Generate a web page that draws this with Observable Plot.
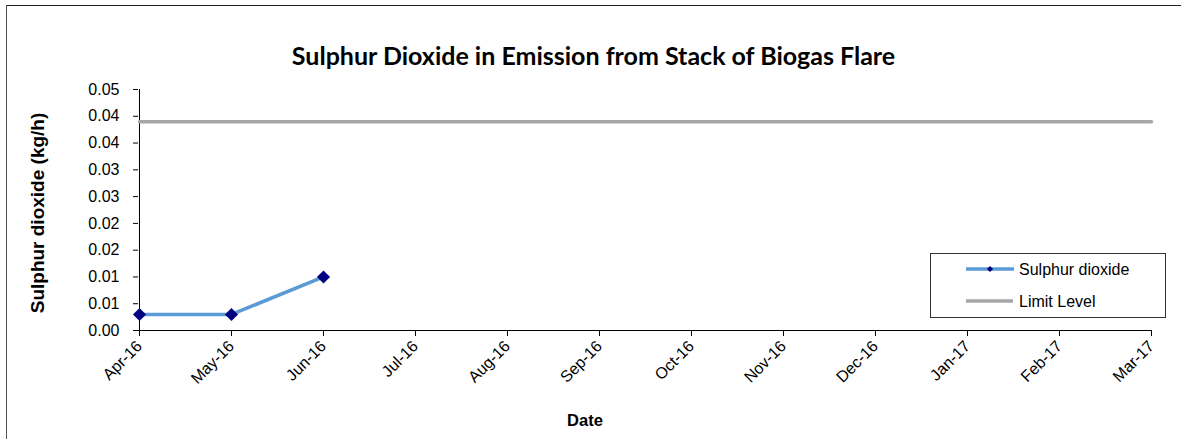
<!DOCTYPE html>
<html>
<head>
<meta charset="utf-8">
<script src="https://cdn.jsdelivr.net/npm/d3@7"></script>
<script src="https://cdn.jsdelivr.net/npm/@observablehq/plot@0.6"></script>
<style>
  html, body { margin: 0; padding: 0; background: #fff; }
  #wrap { position: relative; width: 1181px; height: 439px; overflow: hidden; font-family: "Liberation Sans", Arial, sans-serif; }
  #frame { position: absolute; left: 6px; top: 5px; width: 1200px; height: 460px; border-left: 1.5px solid #555; border-top: 1.5px solid #222; }
  #title { position: absolute; left: 0; width: 1187px; top: 40px; text-align: center; font-family: Lato, "Open Sans", sans-serif; font-weight: bold; font-size: 25px; color: #000; }
  #ylab { position: absolute; left: 38px; top: 213px; transform: translate(-50%, -50%) rotate(-90deg); white-space: nowrap; font-weight: bold; font-size: 19px; }
  #xlab { position: absolute; left: 585px; top: 420px; transform: translate(-50%, -50%); font-weight: bold; font-size: 16.5px; }
  #legend { position: absolute; left: 930px; top: 253px; width: 236px; height: 65px; border: 1px solid #333; box-sizing: border-box; background: #fff; }
  #plot { position: absolute; left: 0; top: 0; }
</style>
</head>
<body>
<div id="wrap">
  <div id="frame"></div>
  <div id="plot"></div>
  <div id="title">Sulphur Dioxide in Emission from Stack of Biogas Flare</div>
  <div id="ylab">Sulphur dioxide (kg/h)</div>
  <div id="xlab">Date</div>
  <div id="legend"></div>
</div>
<script>
const months = ["Apr-16","May-16","Jun-16","Jul-16","Aug-16","Sep-16","Oct-16","Nov-16","Dec-16","Jan-17","Feb-17","Mar-17"];
const so2Months = ["Apr-16","May-16","Jun-16"];
const so2Values = [0.003, 0.003, 0.010];
const limitValue = 0.039;
const yTicks = [0, 0.005, 0.01, 0.015, 0.02, 0.025, 0.03, 0.035, 0.04, 0.045];
const yTickLabels = ["0.00","0.01","0.01","0.02","0.02","0.03","0.03","0.04","0.04","0.05"];

const so2Data = so2Months.map((m, i) => ({month: m, value: so2Values[i]}));
const limitData = months.map(m => ({month: m, value: limitValue}));

const lineColor = "#5B9BD5";
const markColor = "#000080";
const limitColor = "#A6A6A6";
const font = "'Liberation Sans', Arial, sans-serif";

const chart = Plot.plot({
  width: 1181,
  height: 439,
  marginLeft: 138,
  marginRight: 30,
  marginTop: 89,
  marginBottom: 109,
  style: { fontFamily: font, fontSize: "16px", background: "transparent", color: "#000" },
  x: { type: "point", domain: months, padding: 0 },
  y: { domain: [0, 0.045] },
  marks: [
    Plot.ruleY([0], { stroke: "#000", strokeWidth: 1 }),
    Plot.ruleX([months[0]], { stroke: "#000", strokeWidth: 1 }),
    Plot.axisY({ ticks: yTicks, tickFormat: (d, i) => yTickLabels[i], tickSize: 5, tickPadding: 14, label: null, fontSize: 16, strokeOpacity: 1 }),
    Plot.axisX({ tickSize: 6, tickRotate: -45, tickPadding: 7, label: null, fontSize: 16, strokeOpacity: 1 }),
    Plot.line(limitData, { x: "month", y: "value", stroke: limitColor, strokeWidth: 3.5 }),
    Plot.line(so2Data, { x: "month", y: "value", stroke: lineColor, strokeWidth: 3.5 }),
    Plot.dot(so2Data, { x: "month", y: "value", symbol: "diamond2", r: 5.9, fill: markColor, stroke: "none" })
  ]
});
document.getElementById("plot").appendChild(chart);

// legend
const lg = d3.select("#legend").append("svg").attr("width", 236).attr("height", 65)
  .style("position", "absolute").style("left", "-1px").style("top", "-1px");
lg.append("line").attr("x1", 36).attr("x2", 84).attr("y1", 16).attr("y2", 16)
  .attr("stroke", lineColor).attr("stroke-width", 3.5);
lg.append("path").attr("d", d3.symbol(d3.symbolDiamond2, 2.8 * 2.8 * Math.PI)()).attr("transform", "translate(60,16)").attr("fill", markColor);
lg.append("text").attr("x", 89).attr("y", 22).text("Sulphur dioxide")
  .style("font-family", font).style("font-size", "16px");
lg.append("line").attr("x1", 36).attr("x2", 83).attr("y1", 48).attr("y2", 48)
  .attr("stroke", limitColor).attr("stroke-width", 3.5);
lg.append("text").attr("x", 89).attr("y", 54).text("Limit Level")
  .style("font-family", font).style("font-size", "16px");
</script>
</body>
</html>
